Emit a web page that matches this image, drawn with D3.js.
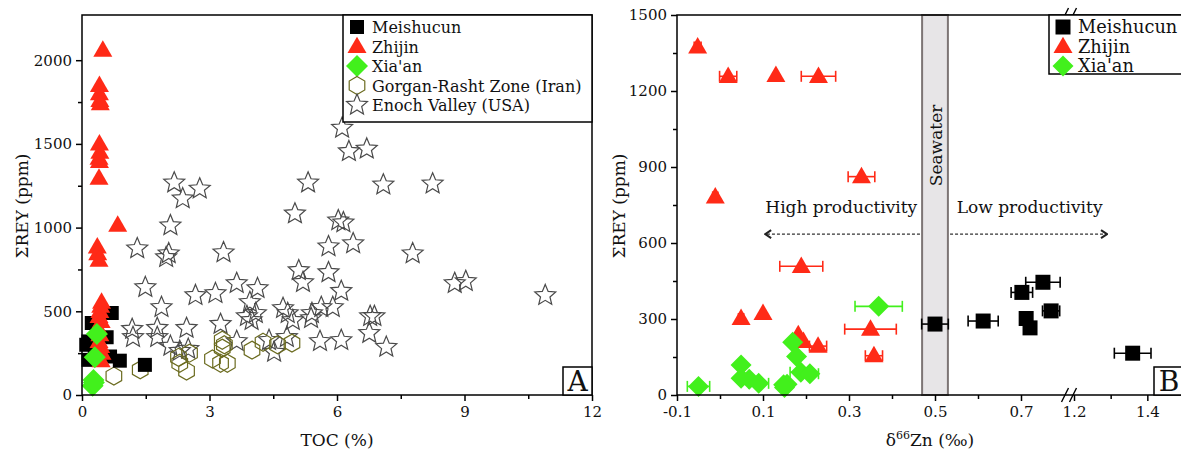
<!DOCTYPE html>
<html>
<head>
<meta charset="utf-8">
<script src="https://cdn.jsdelivr.net/npm/d3@7"></script>
<style>
body { margin: 0; background: #fff; }
svg text { font-family: "DejaVu Serif", serif; fill: #111; }
</style>
</head>
<body>
<div id="viz-wrapper"></div>
<script>
let width = 1181,
    height = 456;

// ---------- Panel A : TOC (%) vs REY (ppm)
let meishucunTOC = [0.70, 0.23, 0.15, 0.15, 0.58, 0.66, 0.89, 1.48, 0.10, 0.30];
let meishucunReyA = [490, 430, 320, 210, 345, 230, 205, 180, 300, 260];

let zhijinTOC = [0.49, 0.41, 0.41, 0.42, 0.43, 0.41, 0.42, 0.40, 0.41, 0.40, 0.84, 0.36, 0.37, 0.40,
                 0.46, 0.44, 0.42, 0.40, 0.45, 0.38, 0.42, 0.40, 0.44, 0.47, 0.45];
let zhijinReyA = [2060, 1850, 1800, 1760, 1740, 1500, 1450, 1415, 1395, 1295, 1015, 885, 845, 805,
                  555, 530, 500, 470, 440, 400, 360, 320, 290, 250, 205];

let xiaanTOC = [0.35, 0.30, 0.27, 0.25, 0.28];
let xiaanReyA = [365, 225, 90, 55, 75];

let gorganTOC = [0.75, 1.37, 2.27, 2.30, 2.46, 2.53, 3.07, 3.30, 3.30, 3.26, 3.42, 4.00, 4.26, 4.60, 4.94, 3.35];
let gorganRey = [113, 150, 225, 190, 143, 250, 215, 327, 280, 190, 190, 268, 315, 300, 310, 300];

let enochTOC = [6.12, 6.28, 6.70, 2.17, 2.77, 2.37, 5.32, 7.09, 8.25, 5.01, 6.03, 6.15, 2.08, 1.30, 2.04, 1.98,
                3.33, 5.80, 6.38, 7.78, 5.10, 5.20, 5.80, 8.77, 9.03, 10.90, 1.49, 6.10, 2.67, 3.14, 3.64, 4.13,
                3.95, 1.87, 5.63, 5.90, 5.41, 5.39, 4.73, 4.84, 4.96, 3.88, 3.99, 4.09, 1.18, 1.20, 1.77, 1.77,
                2.46, 3.26, 3.64, 2.08, 2.30, 2.50, 4.52, 4.40, 4.82, 5.60, 6.10, 6.78, 6.88, 6.76, 7.16];
let enochRey = [1595, 1455, 1470, 1268, 1232, 1173, 1268, 1256, 1262, 1083, 1042, 1030, 1012, 875, 845, 822,
                851, 887, 905, 845, 744, 673, 732, 667, 679, 595, 643, 620, 595, 607, 667, 637,
                554, 524, 524, 524, 488, 458, 518, 488, 446, 470, 446, 488, 393, 345, 399, 345,
                399, 423, 321, 292, 262, 274, 256, 327, 345, 321, 327, 470, 470, 369, 286];

let ticksA_x = [0, 3, 6, 9, 12];
let minorA_x = [1.5, 4.5, 7.5, 10.5];
let ticksA_y = [0, 500, 1000, 1500, 2000];
let minorA_y = [250, 750, 1250, 1750];

// ---------- Panel B : d66Zn vs REY (ppm), with horizontal error bars
let meishucunZn = [0.50, 0.612, 0.702, 0.751, 0.712, 0.721, 0.77, 1.36];
let meishucunReyB = [280, 292, 405, 445, 302, 265, 332, 165];
let meishucunErr = [0.031, 0.035, 0.025, 0.04, 0, 0, 0.02, 0.05];

let zhijinZn = [-0.052, 0.019, 0.13, 0.229, -0.011, 0.329, 0.189, 0.049, 0.10, 0.35, 0.182, 0.194, 0.228, 0.358];
let zhijinReyB = [1374, 1258, 1262, 1258, 782, 862, 508, 302, 322, 260, 238, 212, 193, 155];
let zhijinErr = [0.008, 0.02, 0, 0.04, 0.006, 0.031, 0.05, 0.006, 0, 0.06, 0, 0, 0.02, 0.02];

let xiaanZn = [-0.05, 0.049, 0.049, 0.068, 0.09, 0.148, 0.156, 0.15, 0.169, 0.178, 0.188, 0.209, 0.369];
let xiaanReyB = [34, 118, 66, 62, 46, 40, 42, 30, 208, 152, 90, 84, 350];
let xiaanErr = [0.026, 0, 0, 0, 0.023, 0, 0, 0, 0, 0, 0.025, 0.02, 0.055];

let seawater = [0.47, 0.53];
let ticksB_x = [-0.1, 0.1, 0.3, 0.5, 0.7, 1.2, 1.4];
let minorB_x = [0, 0.2, 0.4, 0.6, 1.3];
let ticksB_y = [0, 300, 600, 900, 1200, 1500];
let minorB_y = [150, 450, 750, 1050, 1350];

let red = '#ff2a17',
    green = '#42f01c',
    olive = '#6b6b1f',
    starGray = '#4a4a4a';

let serif = '"DejaVu Serif", serif';

let svg = d3.select('#viz-wrapper')
            .append('svg')
            .attr('width', width)
            .attr('height', height)
            .style('font-family', serif);

// symbol shapes
function squarePath(s) { let h = s / 2; return 'M' + -h + ',' + -h + 'H' + h + 'V' + h + 'H' + -h + 'Z'; }
function trianglePath(s) {
  let t = s * Math.sqrt(3) / 2;
  return 'M0,' + (-t * 0.6) + 'L' + s / 2 + ',' + t * 0.4 + 'L' + -s / 2 + ',' + t * 0.4 + 'Z';
}
function diamondPath(r) { return 'M0,' + -r + 'L' + r + ',0L0,' + r + 'L' + -r + ',0Z'; }
function polyPath(n, r, inner) {
  let pts = d3.range(n).map(function(i) {
    let a = Math.PI * 2 / n * i - Math.PI / 2;
    let rr = (inner && i % 2) ? r * inner : r;
    return [rr * Math.cos(a), rr * Math.sin(a)];
  });
  return 'M' + pts.join('L') + 'Z';
}
function hexPath(r) { return polyPath(6, r); }
function starPath(r) { return polyPath(10, r, 0.45); }

function drawPoints(g, xs, ys, xScale, yScale, path, fill, stroke) {
  g.append('g').selectAll('path')
    .data(xs.map(function(x, i) { return [x, ys[i]]; }))
    .enter()
    .append('path')
    .attr('d', path)
    .attr('transform', function(d) { return 'translate(' + xScale(d[0]) + ',' + yScale(d[1]) + ')'; })
    .style('fill', fill)
    .style('stroke', stroke)
    .style('stroke-width', stroke == 'none' ? 0 : 1.2);
}

function styleAxis(g) {
  g.selectAll('.domain').remove();
  g.selectAll('line').style('stroke', '#000').style('stroke-width', 1.5);
  g.selectAll('text').style('font-family', serif).style('font-size', '15px').style('fill', '#111');
}

function legend(g, x, y, w, h, rows, fontSize, gap) {
  g.append('rect').attr('x', x).attr('y', y).attr('width', w).attr('height', h)
    .style('fill', '#fff').style('stroke', '#000').style('stroke-width', 1.5);
  rows.forEach(function(r, i) {
    let cy = y + 12 + i * gap;
    g.append('path').attr('d', r.path).attr('transform', 'translate(' + (x + 14) + ',' + cy + ')')
      .style('fill', r.fill).style('stroke', r.stroke).style('stroke-width', 1.2);
    g.append('text').attr('x', x + 29).attr('y', cy + 6).text(r.label)
      .style('font-family', serif).style('font-size', fontSize + 'px');
  });
}

let intFormat = d3.format('d');

// ================= Panel A
let pA = {left: 82, right: 592, top: 15, bottom: 395};
let xA = d3.scaleLinear().domain([0, 12]).range([pA.left, pA.right]);
let yA = d3.scaleLinear().domain([0, 2270]).range([pA.bottom, pA.top]);

let vizA = svg.append('g').attr('id', 'panelA');

vizA.append('g').attr('transform', 'translate(0,' + pA.bottom + ')')
  .call(d3.axisBottom(xA).tickValues(ticksA_x).tickSize(6).tickPadding(5).tickFormat(intFormat)).call(styleAxis);
vizA.append('g').attr('transform', 'translate(0,' + pA.bottom + ')')
  .call(d3.axisBottom(xA).tickValues(minorA_x).tickSize(4).tickFormat('')).call(styleAxis);
vizA.append('g').attr('transform', 'translate(' + pA.left + ',0)')
  .call(d3.axisLeft(yA).tickValues(ticksA_y).tickSize(6).tickPadding(4).tickFormat(intFormat)).call(styleAxis);
vizA.append('g').attr('transform', 'translate(' + pA.left + ',0)')
  .call(d3.axisLeft(yA).tickValues(minorA_y).tickSize(4).tickFormat('')).call(styleAxis);

drawPoints(vizA, enochTOC, enochRey, xA, yA, starPath(11), 'none', starGray);
drawPoints(vizA, gorganTOC, gorganRey, xA, yA, hexPath(9), 'none', olive);
drawPoints(vizA, meishucunTOC, meishucunReyA, xA, yA, squarePath(14), '#000', 'none');
drawPoints(vizA, zhijinTOC, zhijinReyA, xA, yA, trianglePath(19), red, 'none');
drawPoints(vizA, xiaanTOC, xiaanReyA, xA, yA, diamondPath(11), green, 'none');

vizA.append('rect').attr('x', pA.left).attr('y', pA.top)
  .attr('width', pA.right - pA.left).attr('height', pA.bottom - pA.top)
  .style('fill', 'none').style('stroke', '#000').style('stroke-width', 1.5);

legend(vizA, 343, pA.top, pA.right - 343, 107, [
  {label: 'Meishucun', path: squarePath(14), fill: '#000', stroke: 'none'},
  {label: 'Zhijin', path: trianglePath(19), fill: red, stroke: 'none'},
  {label: "Xia'an", path: diamondPath(11), fill: green, stroke: 'none'},
  {label: 'Gorgan-Rasht Zone (Iran)', path: hexPath(9), fill: 'none', stroke: olive},
  {label: 'Enoch Valley (USA)', path: starPath(11), fill: 'none', stroke: starGray}
], 16, 19.5);

vizA.append('rect').attr('x', pA.right - 29).attr('y', pA.bottom - 28).attr('width', 29).attr('height', 28)
  .style('fill', '#fff').style('stroke', '#000').style('stroke-width', 1.5);
vizA.append('text').attr('x', pA.right - 14.5).attr('y', pA.bottom - 4).attr('text-anchor', 'middle')
  .style('font-size', '28px').text('A');

vizA.append('text').attr('x', (pA.left + pA.right) / 2).attr('y', 446).attr('text-anchor', 'middle')
  .style('font-family', serif).style('font-size', '17px').text('TOC (%)');
vizA.append('text').attr('transform', 'translate(28,206) rotate(-90)').attr('text-anchor', 'middle')
  .style('font-family', serif).style('font-size', '17px').text('ΣREY (ppm)');

// ================= Panel B
let pB = {left: 677, right: 1184, top: 15, bottom: 395};
// broken axis: -0.1..0.8 then 1.2..1.5
let xB = d3.scaleLinear().domain([-0.1, 0.8, 1.2, 1.5]).range([pB.left, pB.left + 387, pB.left + 397, pB.right]);
let yB = d3.scaleLinear().domain([0, 1500]).range([pB.bottom, pB.top]);

let vizB = svg.append('g').attr('id', 'panelB');

// seawater band
vizB.append('rect').attr('x', xB(seawater[0])).attr('y', pB.top)
  .attr('width', xB(seawater[1]) - xB(seawater[0])).attr('height', pB.bottom - pB.top)
  .style('fill', '#e7e5e7').style('stroke', '#7d7575').style('stroke-width', 2);
vizB.append('text')
  .attr('transform', 'translate(' + (xB(0.5) + 7) + ',' + yB(985) + ') rotate(-90)')
  .attr('text-anchor', 'middle').style('font-family', serif).style('font-size', '17px').text('Seawater');

vizB.append('g').attr('transform', 'translate(0,' + pB.bottom + ')')
  .call(d3.axisBottom(xB).tickValues(ticksB_x).tickSize(6).tickPadding(5)
    .tickFormat(function(d) { return d.toFixed(1); })).call(styleAxis);
vizB.append('g').attr('transform', 'translate(0,' + pB.bottom + ')')
  .call(d3.axisBottom(xB).tickValues(minorB_x).tickSize(4).tickFormat('')).call(styleAxis);
vizB.append('g').attr('transform', 'translate(' + pB.left + ',0)')
  .call(d3.axisLeft(yB).tickValues(ticksB_y).tickSize(6).tickPadding(4).tickFormat(intFormat)).call(styleAxis);
vizB.append('g').attr('transform', 'translate(' + pB.left + ',0)')
  .call(d3.axisLeft(yB).tickValues(minorB_y).tickSize(4).tickFormat('')).call(styleAxis);

// productivity arrows
let arrowY = yB(635);
let defs = svg.append('defs');
defs.append('marker').attr('id', 'chev').attr('viewBox', '0 0 10 10').attr('refX', 9).attr('refY', 5)
  .attr('markerWidth', 10).attr('markerHeight', 10).attr('markerUnits', 'userSpaceOnUse').attr('orient', 'auto')
  .append('path').attr('d', 'M3,1L9,5L3,9').style('fill', 'none').style('stroke', '#222').style('stroke-width', 2);

vizB.append('line').attr('x1', xB(0.465)).attr('x2', xB(0.105)).attr('y1', arrowY).attr('y2', arrowY)
  .attr('marker-end', 'url(#chev)')
  .style('stroke', '#333').style('stroke-width', 1.2).style('stroke-dasharray', '3,2');
vizB.append('line').attr('x1', xB(0.535)).attr('x2', xB(1.29)).attr('y1', arrowY).attr('y2', arrowY)
  .attr('marker-end', 'url(#chev)')
  .style('stroke', '#333').style('stroke-width', 1.2).style('stroke-dasharray', '3,2');
vizB.append('text').attr('x', xB(0.282)).attr('y', yB(720)).attr('text-anchor', 'middle')
  .style('font-family', serif).style('font-size', '17px').text('High productivity');
vizB.append('text').attr('x', xB(0.72)).attr('y', yB(720)).attr('text-anchor', 'middle')
  .style('font-family', serif).style('font-size', '17px').text('Low productivity');

function errorBars(g, xs, ys, errs, color) {
  let d = xs.map(function(x, i) { return {x: x, y: ys[i], e: errs[i]}; })
            .filter(function(d) { return d.e > 0; });
  let eb = g.append('g').selectAll('g').data(d).enter().append('g')
            .style('stroke', color).style('stroke-width', 1.6);
  eb.append('line')
    .attr('x1', function(d) { return xB(d.x - d.e); }).attr('x2', function(d) { return xB(d.x + d.e); })
    .attr('y1', function(d) { return yB(d.y); }).attr('y2', function(d) { return yB(d.y); });
  [-1, 1].forEach(function(s) {
    eb.append('line')
      .attr('x1', function(d) { return xB(d.x + s * d.e); }).attr('x2', function(d) { return xB(d.x + s * d.e); })
      .attr('y1', function(d) { return yB(d.y) - 5.5; }).attr('y2', function(d) { return yB(d.y) + 5.5; });
  });
}

errorBars(vizB, meishucunZn, meishucunReyB, meishucunErr, '#000');
drawPoints(vizB, meishucunZn, meishucunReyB, xB, yB, squarePath(15), '#000', 'none');
errorBars(vizB, zhijinZn, zhijinReyB, zhijinErr, red);
drawPoints(vizB, zhijinZn, zhijinReyB, xB, yB, trianglePath(19), red, 'none');
errorBars(vizB, xiaanZn, xiaanReyB, xiaanErr, green);
drawPoints(vizB, xiaanZn, xiaanReyB, xB, yB, diamondPath(10.5), green, 'none');

// frame lines (left, bottom, top)
vizB.append('path')
  .attr('d', 'M' + pB.right + ',' + pB.top + 'H' + pB.left + 'V' + pB.bottom + 'H' + pB.right)
  .style('fill', 'none').style('stroke', '#000').style('stroke-width', 1.5);

// axis break marks
[pB.top, pB.bottom].forEach(function(yy) {
  [xB(0.8) + 1, xB(1.2) - 1].forEach(function(xx) {
    vizB.append('line').attr('x1', xx - 3.5).attr('x2', xx + 3.5).attr('y1', yy + 7).attr('y2', yy - 7)
      .style('stroke', '#000').style('stroke-width', 1.4);
  });
});

legend(vizB, 1049, pB.top, 150, 59, [
  {label: 'Meishucun', path: squarePath(15), fill: '#000', stroke: 'none'},
  {label: 'Zhijin', path: trianglePath(19), fill: red, stroke: 'none'},
  {label: "Xia'an", path: diamondPath(10.5), fill: green, stroke: 'none'}
], 17.8, 19.5);

vizB.append('rect').attr('x', 1154).attr('y', pB.bottom - 28).attr('width', 40).attr('height', 28)
  .style('fill', '#fff').style('stroke', '#000').style('stroke-width', 1.5);
vizB.append('text').attr('x', 1169).attr('y', pB.bottom - 4).attr('text-anchor', 'middle')
  .style('font-size', '28px').text('B');

let zTitle = vizB.append('text').attr('x', 930).attr('y', 446).attr('text-anchor', 'middle')
  .style('font-family', serif).style('font-size', '17px');
zTitle.append('tspan').text('δ');
zTitle.append('tspan').attr('dy', -7).style('font-size', '11px').text('66');
zTitle.append('tspan').attr('dy', 7).text('Zn (‰)');
vizB.append('text').attr('transform', 'translate(625,206) rotate(-90)').attr('text-anchor', 'middle')
  .style('font-family', serif).style('font-size', '17px').text('ΣREY (ppm)');
</script>
</body>
</html>
